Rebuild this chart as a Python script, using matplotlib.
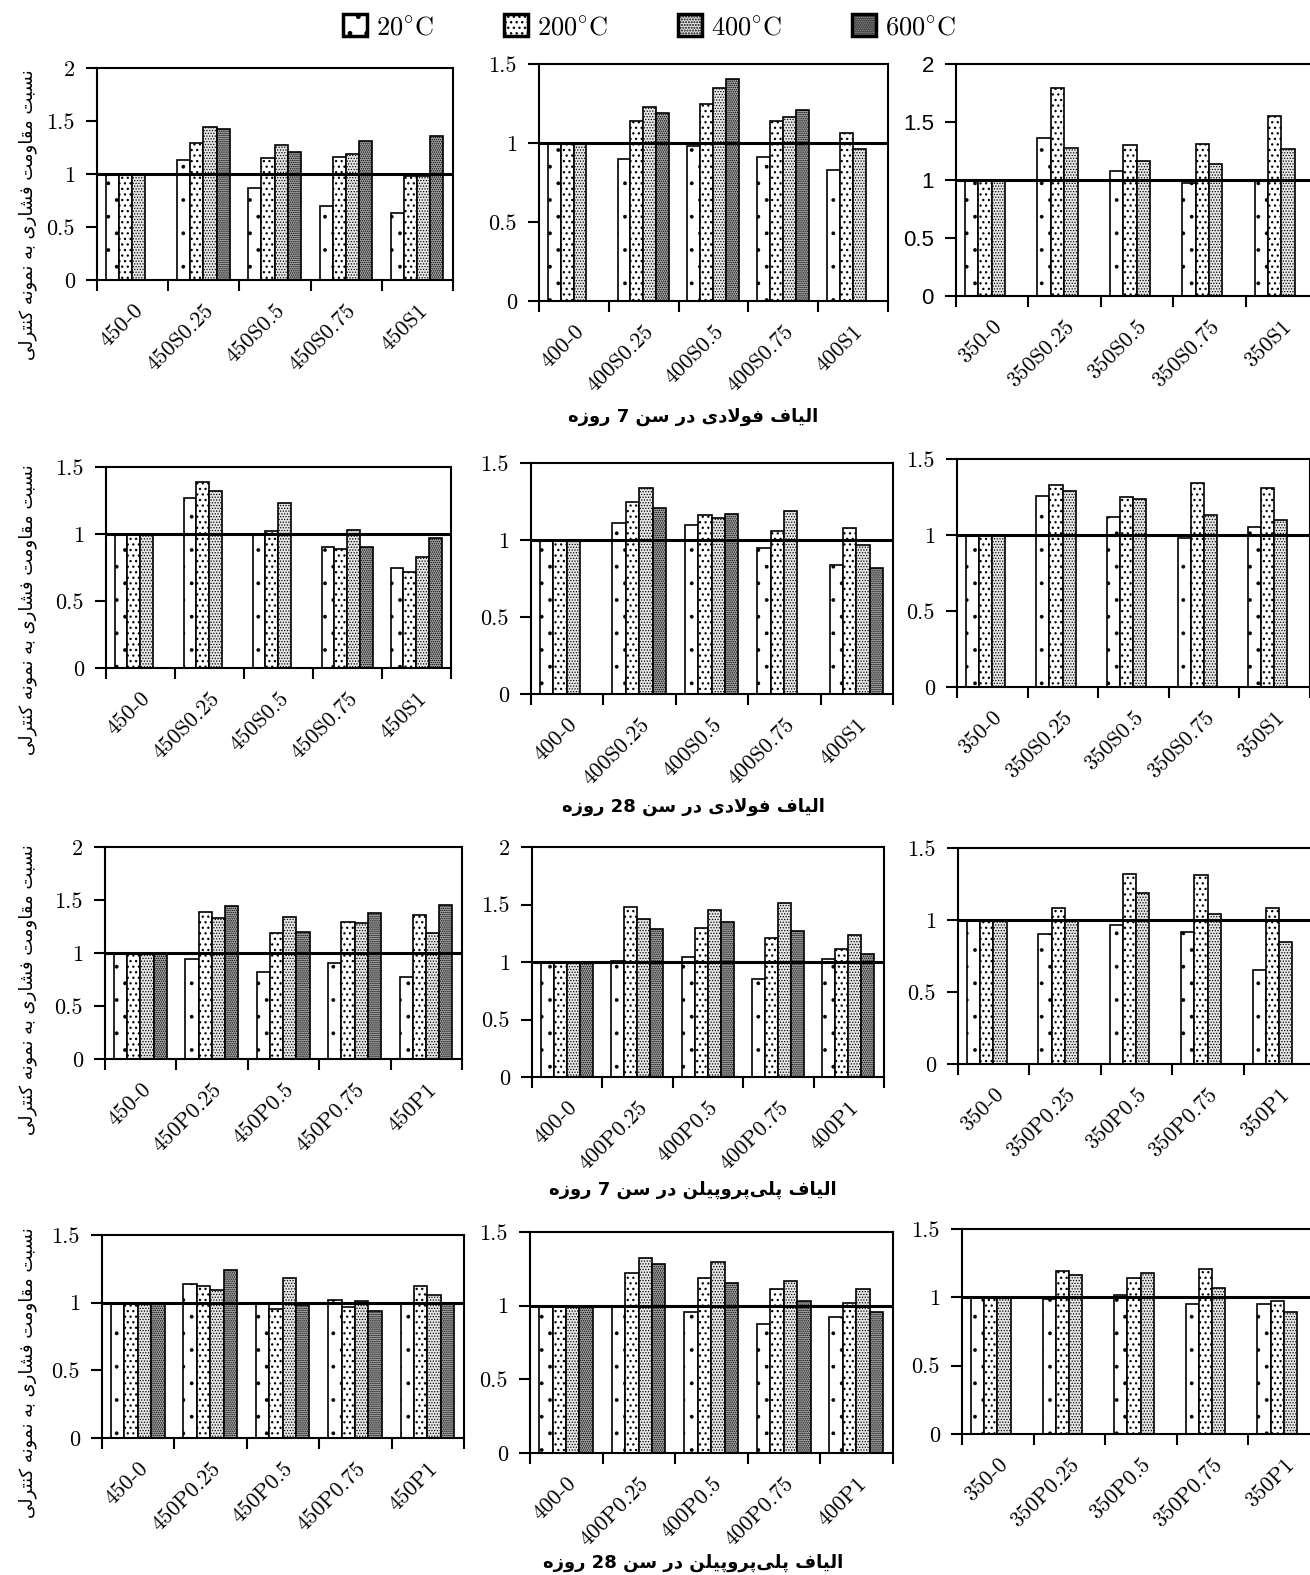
import re
import numpy as np
import matplotlib
matplotlib.use('Agg')
import matplotlib.pyplot as plt
from matplotlib.patches import Patch

plt.rcParams['mathtext.fontset'] = 'cm'

nan = np.nan
W, H = 1310, 1575

temps = ['20', '200', '400', '600']

g_450s = ['450-0', '450S0.25', '450S0.5', '450S0.75', '450S1']
g_400s = ['400-0', '400S0.25', '400S0.5', '400S0.75', '400S1']
g_350s = ['350-0', '350S0.25', '350S0.5', '350S0.75', '350S1']
g_450p = ['450-0', '450P0.25', '450P0.5', '450P0.75', '450P1']
g_400p = ['400-0', '400P0.25', '400P0.5', '400P0.75', '400P1']
g_350p = ['350-0', '350P0.25', '350P0.5', '350P0.75', '350P1']

# one list per temperature (20, 200, 400, 600 C)
s7_450 = [[1.00, 1.13, 0.87, 0.70, 0.63],
          [1.00, 1.29, 1.15, 1.16, 0.98],
          [1.00, 1.44, 1.27, 1.19, 0.98],
          [nan, 1.42, 1.21, 1.31, 1.36]]
s7_400 = [[1.00, 0.90, 0.98, 0.91, 0.83],
          [1.00, 1.14, 1.25, 1.14, 1.065],
          [1.00, 1.225, 1.345, 1.165, 0.965],
          [nan, 1.19, 1.405, 1.21, nan]]
s7_350 = [[1.00, 1.36, 1.08, 0.97, 1.00],
          [1.00, 1.79, 1.30, 1.31, 1.555],
          [1.00, 1.28, 1.16, 1.135, 1.265]]

s28_450 = [[1.00, 1.27, 0.99, 0.90, 0.75],
           [1.00, 1.385, 1.025, 0.89, 0.72],
           [1.00, 1.32, 1.23, 1.03, 0.83],
           [nan, nan, nan, 0.90, 0.97]]
s28_400 = [[1.00, 1.11, 1.10, 0.95, 0.84],
           [1.00, 1.25, 1.16, 1.06, 1.075],
           [1.00, 1.34, 1.145, 1.19, 0.965],
           [nan, 1.21, 1.17, nan, 0.82]]
s28_350 = [[1.00, 1.255, 1.12, 0.98, 1.05],
           [1.00, 1.33, 1.25, 1.34, 1.31],
           [1.00, 1.29, 1.24, 1.13, 1.10]]

p7_450 = [[1.00, 0.94, 0.82, 0.91, 0.77],
          [1.00, 1.39, 1.19, 1.29, 1.355],
          [1.00, 1.33, 1.34, 1.28, 1.19],
          [1.00, 1.44, 1.20, 1.38, 1.45]]
p7_400 = [[1.00, 1.01, 1.045, 0.85, 1.03],
          [1.00, 1.48, 1.30, 1.21, 1.11],
          [1.00, 1.37, 1.45, 1.51, 1.235],
          [1.00, 1.29, 1.35, 1.27, 1.07]]
p7_350 = [[1.00, 0.90, 0.965, 0.92, 0.65],
          [1.00, 1.08, 1.32, 1.31, 1.08],
          [1.00, 1.00, 1.19, 1.045, 0.845]]

p28_450 = [[1.00, 1.135, 0.995, 1.02, 0.995],
           [1.00, 1.12, 0.95, 0.97, 1.12],
           [1.00, 1.09, 1.185, 1.015, 1.06],
           [1.00, 1.245, 0.98, 0.94, 0.99]]
p28_400 = [[1.00, 1.00, 0.96, 0.875, 0.92],
           [1.00, 1.22, 1.19, 1.11, 1.02],
           [1.00, 1.325, 1.295, 1.17, 1.115],
           [1.00, 1.28, 1.155, 1.03, 0.96]]
p28_350 = [[1.00, 0.99, 1.02, 0.95, 0.95],
           [1.00, 1.19, 1.14, 1.21, 0.97],
           [1.00, 1.165, 1.18, 1.07, 0.89]]

ylabel_fa = 'نسبت مقاومت فشاری به نمونه کنترلی'
row_titles = ['الیاف فولادی در سن 7 روزه',
              'الیاف فولادی در سن 28 روزه',
              'الیاف پلی\u200cپروپیلن در سن 7 روزه',
              'الیاف پلی\u200cپروپیلن در سن 28 روزه']

# isolated, final, initial, medial presentation forms
FORMS = {
    'ا': (0xFE8D, 0xFE8E, None, None),
    'ب': (0xFE8F, 0xFE90, 0xFE91, 0xFE92),
    'پ': (0xFB56, 0xFB57, 0xFB58, 0xFB59),
    'ت': (0xFE95, 0xFE96, 0xFE97, 0xFE98),
    'د': (0xFEA9, 0xFEAA, None, None),
    'ر': (0xFEAD, 0xFEAE, None, None),
    'ز': (0xFEAF, 0xFEB0, None, None),
    'س': (0xFEB1, 0xFEB2, 0xFEB3, 0xFEB4),
    'ش': (0xFEB5, 0xFEB6, 0xFEB7, 0xFEB8),
    'ف': (0xFED1, 0xFED2, 0xFED3, 0xFED4),
    'ق': (0xFED5, 0xFED6, 0xFED7, 0xFED8),
    'ک': (0xFB8E, 0xFB8F, 0xFB90, 0xFB91),
    'ل': (0xFEDD, 0xFEDE, 0xFEDF, 0xFEE0),
    'م': (0xFEE1, 0xFEE2, 0xFEE3, 0xFEE4),
    'ن': (0xFEE5, 0xFEE6, 0xFEE7, 0xFEE8),
    'ه': (0xFEE9, 0xFEEA, 0xFEEB, 0xFEEC),
    'و': (0xFEED, 0xFEEE, None, None),
    'ی': (0xFBFC, 0xFBFD, 0xFBFE, 0xFBFF),
}


def joins_forward(c):
    return c in FORMS and FORMS[c][2] is not None


def fa(text):
    # contextual shaping + visual reorder, since matplotlib has no bidi support
    out = []
    i = 0
    n = len(text)
    while i < n:
        c = text[i]
        if c not in FORMS:
            out.append(c)
            i += 1
            continue
        prev_join = i > 0 and joins_forward(text[i - 1])
        if c == 'ل' and i + 1 < n and text[i + 1] == 'ا':
            out.append(chr(0xFEFC if prev_join else 0xFEFB))
            i += 2
            continue
        next_join = i + 1 < n and text[i + 1] in FORMS and joins_forward(c)
        iso, fin, ini, med = FORMS[c]
        if prev_join and next_join:
            g = med
        elif prev_join:
            g = fin
        elif next_join:
            g = ini
        else:
            g = iso
        out.append(chr(g))
        i += 1
    s = ''.join(out).replace('\u200c', '')[::-1]
    return re.sub(r'\d+', lambda m: m.group(0)[::-1], s)


hatches = ['.', '...', '......', '........']
hatch_lw = [0.3, 0.9, 0.6, 0.7]
faces = ['white', 'white', '#e6e6e6', '#a8a8a8']

# (groups, data, ymax, [left, top, right, bottom] in px, tick font)
panels = [
    (g_450s, s7_450, 2.0, [97, 68, 453, 280], 'cmr10'),
    (g_400s, s7_400, 1.5, [539, 64, 888, 301], 'cmr10'),
    (g_350s, s7_350, 2.0, [956, 64, 1318, 296], 'Liberation Sans'),
    (g_450s, s28_450, 1.5, [106, 467, 451, 668], 'cmr10'),
    (g_400s, s28_400, 1.5, [531, 463, 893, 694], 'cmr10'),
    (g_350s, s28_350, 1.5, [957, 459, 1310, 687], 'cmr10'),
    (g_450p, p7_450, 2.0, [105, 847, 462, 1059], 'cmr10'),
    (g_400p, p7_400, 2.0, [532, 847, 884, 1077], 'cmr10'),
    (g_350p, p7_350, 1.5, [958, 848, 1315, 1064], 'cmr10'),
    (g_450p, p28_450, 1.5, [102, 1235, 464, 1438], 'cmr10'),
    (g_400p, p28_400, 1.5, [530, 1232, 893, 1453], 'cmr10'),
    (g_350p, p28_350, 1.5, [962, 1229, 1320, 1434], 'cmr10'),
]

fig = plt.figure(figsize=(W / 100, H / 100), dpi=100)

bw = 0.185
x0 = np.arange(5)
for groups, data, ymax, (l, t, r, b), tfont in panels:
    ax = fig.add_axes([l / W, 1 - b / H, (r - l) / W, (b - t) / H])
    for k, vals in enumerate(data):
        with plt.rc_context({'hatch.linewidth': hatch_lw[k]}):
            ax.bar(x0 + 0.125 + bw * (k + 0.5), vals, bw, color=faces[k],
                   edgecolor='black', linewidth=1.2, hatch=hatches[k], zorder=2)
    ax.axhline(1, color='black', lw=2.2, zorder=3)
    ax.set_xlim(0, 5)
    ax.set_ylim(0, ymax)
    yt = np.arange(0, ymax + 0.01, 0.5)
    ax.set_yticks(yt, ['%g' % v for v in yt], fontfamily=tfont, fontsize=16)
    ax.set_xticks(np.arange(6), [])
    ax.set_xticks(x0 + 0.5, groups, minor=True, fontfamily='cmr10', fontsize=16)
    ax.tick_params(axis='y', direction='out', length=8, width=1.5, pad=8)
    ax.tick_params(axis='x', which='major', direction='out', length=8, width=1.5)
    ax.tick_params(axis='x', which='minor', length=0, pad=15)
    for lab in ax.get_xticklabels(minor=True):
        lab.set_rotation(45)
        lab.set_ha('right')
        lab.set_va('top')
        lab.set_rotation_mode('anchor')
    for sp in ax.spines.values():
        sp.set_linewidth(1.5)

# y label on the left of every row
for yc in [215, 610, 990, 1373]:
    fig.text(28 / W, 1 - yc / H, fa(ylabel_fa), rotation=90, ha='center',
             va='center', fontsize=13, family='DejaVu Sans')

for yc, title in zip([417, 807, 1190, 1563], row_titles):
    fig.text(693 / W, 1 - yc / H, fa(title), ha='center', va='center',
             fontsize=13, fontweight='bold', family='DejaVu Sans')

handles = []
for k in range(4):
    with plt.rc_context({'hatch.linewidth': hatch_lw[k]}):
        handles.append(Patch(facecolor=faces[k], edgecolor='black',
                             hatch=hatches[k], linewidth=2.5,
                             label=r'$%s^{\circ}\mathrm{C}$' % temps[k]))
fig.legend(handles=handles, loc='center', ncol=4, frameon=False,
           bbox_to_anchor=(650 / W, 1 - 27 / H), fontsize=19,
           handlelength=0.9, handleheight=0.9, handletextpad=0.35,
           columnspacing=2.65)

fig.savefig('out.png', dpi=100)
